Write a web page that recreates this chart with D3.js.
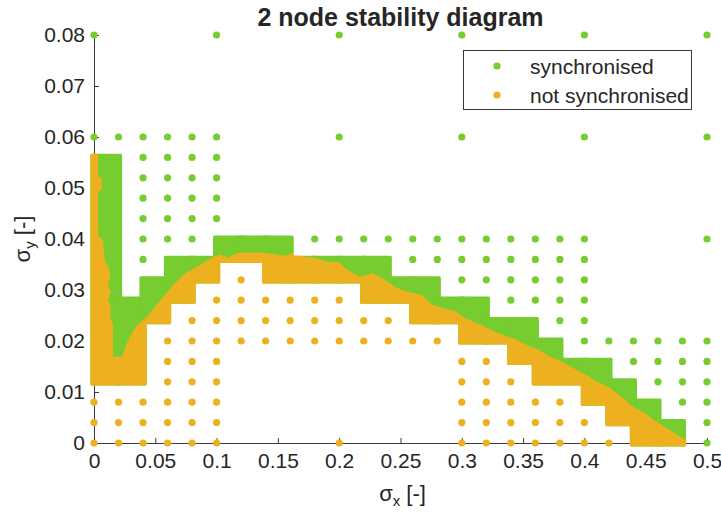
<!DOCTYPE html>
<html><head><meta charset="utf-8">
<script src="https://cdn.jsdelivr.net/npm/d3@7"></script>
<style>
body{margin:0;background:#fff}
text{font-family:"Liberation Sans",Arial,Helvetica,sans-serif;fill:#262626}
</style>
</head><body>
<svg id="chart" width="721" height="516"></svg>
<script>
// ---------------- data ----------------
const titleText = "2 node stability diagram";
const seriesNames = ["synchronised", "not synchronised"];
const seriesColors = ["#77cc2f", "#edb120"];
const xTicks = [0, 0.05, 0.1, 0.15, 0.2, 0.25, 0.3, 0.35, 0.4, 0.45, 0.5];
const xTickLabels = ["0", "0.05", "0.1", "0.15", "0.2", "0.25", "0.3", "0.35", "0.4", "0.45", "0.5"];
const yTicks = [0, 0.01, 0.02, 0.03, 0.04, 0.05, 0.06, 0.07, 0.08];
const yTickLabels = ["0", "0.01", "0.02", "0.03", "0.04", "0.05", "0.06", "0.07", "0.08"];

// sparse sample points, "synchronised" (one row per sigma_y value)
const syncRowY = [0.08, 0.06, 0.056, 0.052, 0.048, 0.044, 0.04, 0.036, 0.032, 0.028, 0.024, 0.02, 0.016, 0.012, 0.008, 0.004, 0];
const syncRowX = [
  [0, 0.1, 0.2, 0.3, 0.4, 0.5],
  [0, 0.02, 0.04, 0.06, 0.08, 0.1, 0.2, 0.3, 0.4, 0.5],
  [0.04, 0.06, 0.08, 0.1],
  [0.04, 0.06, 0.08, 0.1],
  [0.04, 0.06, 0.08, 0.1],
  [0.04, 0.06, 0.08, 0.1],
  [0.04, 0.06, 0.08, 0.18, 0.2, 0.22, 0.24, 0.26, 0.28, 0.3, 0.32, 0.34, 0.36, 0.38, 0.4, 0.5],
  [0.04, 0.26, 0.28, 0.3, 0.32, 0.34, 0.36, 0.38, 0.4],
  [0.3, 0.32, 0.34, 0.36, 0.38, 0.4],
  [0.34, 0.36, 0.38, 0.4],
  [0.38, 0.4],
  [0.4, 0.42, 0.44, 0.46, 0.48, 0.5],
  [0.44, 0.46, 0.48, 0.5],
  [0.46, 0.48, 0.5],
  [0.48, 0.5],
  [0.5],
  [0.5]
];

// sparse sample points, "not synchronised"
const unsyncRowY = [0.032, 0.028, 0.024, 0.02, 0.016, 0.012, 0.008, 0.004, 0];
const unsyncRowX = [
  [0.12],
  [0.1, 0.12, 0.14, 0.16, 0.18, 0.2],
  [0.08, 0.1, 0.12, 0.14, 0.16, 0.18, 0.2, 0.22, 0.24],
  [0.06, 0.08, 0.1, 0.12, 0.14, 0.16, 0.18, 0.2, 0.22, 0.24, 0.26, 0.28],
  [0.06, 0.08, 0.1, 0.3, 0.32],
  [0.06, 0.08, 0.1, 0.3, 0.32, 0.34],
  [0, 0.02, 0.04, 0.06, 0.08, 0.1, 0.3, 0.32, 0.34, 0.36, 0.38],
  [0, 0.02, 0.04, 0.06, 0.08, 0.1, 0.3, 0.32, 0.34, 0.36, 0.38, 0.4],
  [0, 0.02, 0.04, 0.06, 0.08, 0.1, 0.2, 0.3, 0.32, 0.34, 0.36, 0.38, 0.4, 0.42]
];

// densely sampled (refined) columns along the stability boundary
const bandX0 = [0, 0.02, 0.04, 0.06, 0.08, 0.1, 0.12, 0.14, 0.16, 0.18, 0.2, 0.22, 0.24, 0.26, 0.28, 0.3, 0.32, 0.34, 0.36, 0.38, 0.4, 0.42, 0.44, 0.46];
const bandX1 = [0.02, 0.04, 0.06, 0.08, 0.1, 0.12, 0.14, 0.16, 0.18, 0.2, 0.22, 0.24, 0.26, 0.28, 0.3, 0.32, 0.34, 0.36, 0.38, 0.4, 0.42, 0.44, 0.46, 0.48];
const bandYLow = [0.012, 0.012, 0.024, 0.028, 0.032, 0.036, 0.036, 0.032, 0.032, 0.032, 0.032, 0.028, 0.028, 0.024, 0.024, 0.02, 0.02, 0.016, 0.012, 0.012, 0.008, 0.004, 0, 0];
const bandYHigh = [0.056, 0.028, 0.032, 0.036, 0.036, 0.04, 0.04, 0.04, 0.036, 0.036, 0.036, 0.036, 0.032, 0.032, 0.028, 0.028, 0.024, 0.024, 0.02, 0.016, 0.016, 0.012, 0.008, 0.004];

// outline of the not-synchronised part inside the dense region
const unsyncEdgeX = [-0.01, 0.0033, 0.0033, 0.0033, 0.0065, 0.0065, 0.0033, 0.0033, 0.0073, 0.009, 0.0122, 0.0131, 0.0114, 0.0139, 0.0114, 0.0139, 0.0131, 0.0155, 0.0155, 0.0228, 0.0269, 0.0294, 0.0318, 0.0351, 0.0432, 0.0498, 0.0579, 0.0644, 0.0742, 0.0824, 0.0905, 0.0971, 0.1028, 0.1093, 0.1175, 0.1395, 0.1558, 0.1623, 0.1721, 0.1803, 0.1909, 0.199, 0.2072, 0.217, 0.2268, 0.2349, 0.2455, 0.2561, 0.2675, 0.2757, 0.2839, 0.2945, 0.3026, 0.3165, 0.3271, 0.3377, 0.3418, 0.3532, 0.3638, 0.3719, 0.3825, 0.3907, 0.4021, 0.4103, 0.4209, 0.4315, 0.4396, 0.4478, 0.4592, 0.4674, 0.4755, 0.4829, 0.5, 0.5, -0.01];
const unsyncEdgeY = [0.06, 0.06, 0.0575, 0.0524, 0.0518, 0.0498, 0.049, 0.0406, 0.0398, 0.0355, 0.0343, 0.0324, 0.031, 0.0296, 0.028, 0.0265, 0.0249, 0.0233, 0.0169, 0.0169, 0.0196, 0.0208, 0.022, 0.0231, 0.0247, 0.0267, 0.029, 0.031, 0.0333, 0.0343, 0.0355, 0.0365, 0.0369, 0.0363, 0.0373, 0.0373, 0.0367, 0.0373, 0.0365, 0.0363, 0.0355, 0.0355, 0.0339, 0.0326, 0.0333, 0.0324, 0.0306, 0.0296, 0.029, 0.0271, 0.0265, 0.0259, 0.0245, 0.0231, 0.0218, 0.0208, 0.0206, 0.0192, 0.0182, 0.0169, 0.0159, 0.0147, 0.0133, 0.012, 0.0108, 0.0088, 0.0071, 0.0061, 0.0041, 0.0029, 0.0016, 0.0006, -0.002, -0.005, -0.005];

// ---------------- drawing ----------------
const W = 721, H = 516;
const margin = {left: 94, right: 14, top: 35, bottom: 73};
const r = 3.6;
const svg = d3.select("#chart");
const x = d3.scaleLinear().domain([0, 0.5]).range([margin.left, W - margin.right]);
const y = d3.scaleLinear().domain([0, 0.08]).range([H - margin.bottom, margin.top]);

// axes (MATLAB style: inward ticks, no box)
const axisColor = "#262626";
const gx = svg.append("g").attr("transform", `translate(0,${y(0)})`)
  .call(d3.axisBottom(x).tickValues(xTicks).tickFormat((d, i) => xTickLabels[i]).tickSizeInner(-5).tickSizeOuter(0).tickPadding(10));
const gy = svg.append("g").attr("transform", `translate(${x(0)},0)`)
  .call(d3.axisLeft(y).tickValues(yTicks).tickFormat((d, i) => yTickLabels[i]).tickSizeInner(-5).tickSizeOuter(0).tickPadding(9));
[gx, gy].forEach(g => {
  g.select(".domain").attr("stroke", axisColor).attr("stroke-width", 0.9);
  g.selectAll(".tick line").attr("stroke", axisColor).attr("stroke-width", 0.9);
  g.selectAll(".tick text").attr("font-size", 21).attr("fill", axisColor)
    .style("font-family", '"Liberation Sans",Arial,Helvetica,sans-serif');
});

// flatten sparse points
const syncPts = syncRowY.flatMap((yy, i) => syncRowX[i].map(xx => [xx, yy]));
const unsyncPts = unsyncRowY.flatMap((yy, i) => unsyncRowX[i].map(xx => [xx, yy]));
const bandCols = bandX0.map((x0, i) => ({x0, x1: bandX1[i], lo: bandYLow[i], hi: bandYHigh[i]}));

// clip for the dense region
const defs = svg.append("defs");
const clip = defs.append("clipPath").attr("id", "bandClip");
const bandRect = sel => sel
  .attr("x", d => x(d.x0) - r).attr("y", d => y(d.hi) - r)
  .attr("width", d => x(d.x1) - x(d.x0) + 2 * r)
  .attr("height", d => y(d.lo) - y(d.hi) + 2 * r)
  .attr("rx", 1.5);
clip.selectAll("rect").data(bandCols).join("rect").call(bandRect);

const data = svg.append("g");
// synchronised: sparse + dense
data.append("g").selectAll("circle").data(syncPts).join("circle")
  .attr("cx", d => x(d[0])).attr("cy", d => y(d[1])).attr("r", r).attr("fill", seriesColors[0]);
data.append("g").selectAll("rect").data(bandCols).join("rect").call(bandRect).attr("fill", seriesColors[0]);
// not synchronised: dense part (clipped to dense region) + sparse
const edgePts = unsyncEdgeX.map((xx, i) => [x(xx), y(unsyncEdgeY[i])]);
data.append("path").attr("d", d3.line().curve(d3.curveLinearClosed)(edgePts))
  .attr("fill", seriesColors[1]).attr("clip-path", "url(#bandClip)");
data.append("g").selectAll("circle").data(unsyncPts).join("circle")
  .attr("cx", d => x(d[0])).attr("cy", d => y(d[1])).attr("r", r).attr("fill", seriesColors[1]);

// title
svg.append("text").attr("x", (x(0) + x(0.5)) / 2).attr("y", 26).attr("text-anchor", "middle")
  .attr("font-size", 25).attr("font-weight", "bold").attr("fill", "#000").text(titleText);

// axis labels
const xl = svg.append("text").attr("x", (x(0) + x(0.5)) / 2 + 2).attr("y", 501).attr("text-anchor", "middle")
  .attr("font-size", 22);
xl.append("tspan").text("σ");
xl.append("tspan").attr("font-size", 15).attr("dy", 5).text("x");
xl.append("tspan").attr("dy", -5).text(" [-]");
const yl = svg.append("text").attr("transform", `translate(30,${(y(0) + y(0.08)) / 2}) rotate(-90)`)
  .attr("text-anchor", "middle").attr("font-size", 22);
yl.append("tspan").text("σ");
yl.append("tspan").attr("font-size", 15).attr("dy", 5).text("y");
yl.append("tspan").attr("dy", -5).text(" [-]");

// legend
const lg = svg.append("g");
lg.append("rect").attr("x", 463.5).attr("y", 50.5).attr("width", 228).attr("height", 59)
  .attr("fill", "#fff").attr("stroke", axisColor).attr("stroke-width", 0.9);
seriesNames.forEach((name, i) => {
  lg.append("circle").attr("cx", 497).attr("cy", 66 + i * 29).attr("r", r).attr("fill", seriesColors[i]);
  lg.append("text").attr("x", 530).attr("y", 73.5 + i * 29).attr("font-size", 21).text(name);
});
</script>
</body></html>
